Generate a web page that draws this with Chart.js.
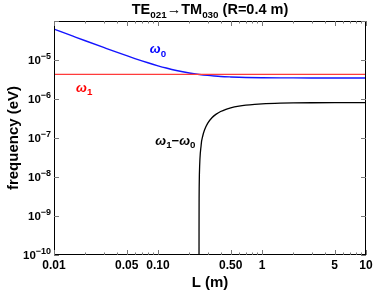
<!DOCTYPE html>
<html>
<head>
<meta charset="utf-8">
<script src="https://cdn.jsdelivr.net/npm/chart.js@4/dist/chart.umd.min.js"></script>
<style>
  html, body { margin: 0; padding: 0; background: #fff; }
  #wrap { width: 374px; height: 295px; }
</style>
</head>
<body>
<div id="wrap"><canvas id="chart"></canvas></div>
<script>
// cavity length L (m) and the curves
var omega0L = [0.01, 0.012, 0.015, 0.02, 0.03, 0.04, 0.05, 0.06, 0.07, 0.08, 0.1, 0.12, 0.15, 0.2, 0.25, 0.3, 0.35, 0.4, 0.5, 0.6, 0.7, 1, 1.5, 2, 3, 5, 7, 10];
var omega0 = [6.21e-5, 5.18e-5, 4.15e-5, 3.12e-5, 2.10e-5, 1.59e-5, 1.29e-5, 1.09e-5, 9.51e-6, 8.49e-6, 7.10e-6, 6.22e-6, 5.39e-6, 4.65e-6, 4.26e-6, 4.03e-6, 3.89e-6, 3.79e-6, 3.68e-6, 3.61e-6, 3.57e-6, 3.52e-6, 3.49e-6, 3.48e-6, 3.47e-6, 3.46e-6, 3.46e-6, 3.46e-6];

var omega1L = [0.01, 10];
var omega1 = [4.27e-6, 4.27e-6];

var diffL = [0.24803, 0.2481, 0.2485, 0.249, 0.25, 0.26, 0.27, 0.28, 0.3, 0.33, 0.36, 0.4, 0.45, 0.5, 0.6, 0.7, 0.85, 1, 1.5, 2, 3, 5, 7, 10];
var diff = [1e-10, 4.1e-10, 2.8e-9, 5.7e-9, 1.15e-8, 6.63e-8, 1.16e-7, 1.61e-7, 2.38e-7, 3.31e-7, 4.03e-7, 4.77e-7, 5.44e-7, 5.93e-7, 6.57e-7, 6.97e-7, 7.32e-7, 7.53e-7, 7.83e-7, 7.94e-7, 8.02e-7, 8.06e-7, 8.07e-7, 8.08e-7];

var xTicks = [0.01, 0.05, 0.1, 0.5, 1, 5, 10];
var xTickLabels = ["0.01", "0.05", "0.10", "0.50", "1", "5", "10"];
var xMinor = [0.02, 0.03, 0.04, 0.06, 0.07, 0.08, 0.09, 0.2, 0.3, 0.4, 0.6, 0.7, 0.8, 0.9, 2, 3, 4, 6, 7, 8, 9];
var yExps = [-10, -9, -8, -7, -6, -5, -4];
var yLabelExps = [-10, -9, -8, -7, -6, -5];

function pts(xs, ys) {
  return xs.map(function (x, i) { return { x: x, y: ys[i] }; });
}

// text with lowered/raised small parts: parts = [[text, kind, fontStyle]]
function drawRich(ctx, parts, x, y, size, align, style, small) {
  small = small || 0.68;
  var fam = "px 'Liberation Sans', Arial, sans-serif";
  function fnt(p) {
    return (p[2] || style) + " " + (p[1] ? size * small : size) + fam;
  }
  var w = 0;
  parts.forEach(function (p) {
    ctx.font = fnt(p);
    w += ctx.measureText(p[0]).width;
  });
  var cx = align === "center" ? x - w / 2 : (align === "right" ? x - w : x);
  ctx.textBaseline = "alphabetic";
  ctx.textAlign = "left";
  parts.forEach(function (p) {
    ctx.font = fnt(p);
    var dy = p[1] === "sub" ? size * 0.28 : (p[1] === "sup" ? -size * 0.42 : 0);
    ctx.fillText(p[0], cx, y + dy);
    cx += ctx.measureText(p[0]).width;
  });
}

var decor = {
  id: "decor",
  afterDraw: function (chart) {
    var ctx = chart.ctx;
    var a = chart.chartArea;
    var xs = chart.scales.x, ys = chart.scales.y;
    ctx.save();
    // frame
    ctx.strokeStyle = "#000";
    ctx.lineWidth = 1;
    ctx.strokeRect(a.left + 0.5, a.top + 0.5, a.right - a.left - 1, a.bottom - a.top - 1);
    // ticks
    ctx.strokeStyle = "#777";
    ctx.beginPath();
    xTicks.forEach(function (v) {
      var px = Math.round(xs.getPixelForValue(v)) + 0.5;
      ctx.moveTo(px, a.bottom); ctx.lineTo(px, a.bottom - 5);
      ctx.moveTo(px, a.top); ctx.lineTo(px, a.top + 5);
    });
    xMinor.forEach(function (v) {
      var px = Math.round(xs.getPixelForValue(v)) + 0.5;
      ctx.moveTo(px, a.bottom); ctx.lineTo(px, a.bottom - 2.5);
      ctx.moveTo(px, a.top); ctx.lineTo(px, a.top + 2.5);
    });
    yExps.forEach(function (e) {
      var py = Math.round(ys.getPixelForValue(Math.pow(10, e))) + 0.5;
      ctx.moveTo(a.left, py); ctx.lineTo(a.left + 5, py);
      ctx.moveTo(a.right, py); ctx.lineTo(a.right - 5, py);
    });
    ctx.stroke();

    ctx.fillStyle = "#000";
    // x tick labels
    ctx.font = "bold 12px 'Liberation Sans', Arial, sans-serif";
    ctx.textAlign = "center";
    ctx.textBaseline = "top";
    xTicks.forEach(function (v, i) {
      var px = xs.getPixelForValue(v);
      ctx.fillText(xTickLabels[i], px, a.bottom + 5);
    });
    // y tick labels
    yLabelExps.forEach(function (e) {
      var py = ys.getPixelForValue(Math.pow(10, e));
      drawRich(ctx, [["10", ""], ["\u2212" + Math.abs(e), "sup"]], a.left - 3, py + 4, 11.5, "right", "bold", 0.78);
    });
    // title
    drawRich(ctx, [["TE", ""], ["021", "sub"], ["\u2192TM", ""], ["030", "sub"], [" (R=0.4 m)", ""]],
      (a.left + a.right) / 2, 14, 14.5, "center", "bold");
    // axis titles
    ctx.font = "bold 15px 'Liberation Sans', Arial, sans-serif";
    ctx.textAlign = "center";
    ctx.textBaseline = "alphabetic";
    ctx.fillText("L (m)", (a.left + a.right) / 2, 287);
    ctx.save();
    ctx.translate(18, (a.top + a.bottom) / 2);
    ctx.rotate(-Math.PI / 2);
    ctx.fillText("frequency (eV)", 0, 0);
    ctx.restore();
    // curve labels
    var it = "italic bold";
    ctx.fillStyle = "#0000ff";
    drawRich(ctx, [["\u03c9", "", it], ["0", "sub", "bold"]], xs.getPixelForValue(0.1), ys.getPixelForValue(1.9e-5) + 4, 13, "center", "bold", 0.75);
    ctx.fillStyle = "#ff0000";
    drawRich(ctx, [["\u03c9", "", it], ["1", "sub", "bold"]], xs.getPixelForValue(0.0195), ys.getPixelForValue(1.95e-6) + 4, 13, "center", "bold", 0.75);
    ctx.fillStyle = "#000";
    drawRich(ctx, [["\u03c9", "", it], ["1", "sub", "bold"], ["\u2212", "", "bold"], ["\u03c9", "", it], ["0", "sub", "bold"]],
      xs.getPixelForValue(0.147), ys.getPixelForValue(8.5e-8) + 4, 13, "center", "bold", 0.75);
    ctx.restore();
  }
};

var ctx = document.getElementById("chart").getContext("2d");
var chart = new Chart(ctx, {
  type: "scatter",
  data: {
    datasets: [
      { data: pts(omega1L, omega1), borderColor: "#ff3b3b", borderWidth: 1.4, showLine: true, pointRadius: 0 },
      { data: pts(omega0L, omega0), borderColor: "#1414ff", borderWidth: 1.4, showLine: true, pointRadius: 0, cubicInterpolationMode: "monotone" },
      { data: pts(diffL, diff), borderColor: "#000000", borderWidth: 1.3, showLine: true, pointRadius: 0, cubicInterpolationMode: "monotone" }
    ]
  },
  options: {
    responsive: true,
    maintainAspectRatio: false,
    animation: false,
    layout: { padding: { top: 21, right: 8, left: 0, bottom: 0 } },
    plugins: { legend: { display: false }, tooltip: { enabled: false } },
    scales: {
      x: {
        type: "logarithmic", min: 0.01, max: 10,
        grid: { display: false }, border: { display: false },
        ticks: { display: false },
        afterFit: function (s) { s.height = 40; }
      },
      y: {
        type: "logarithmic", min: 1e-10, max: 1e-4,
        grid: { display: false }, border: { display: false },
        ticks: { display: false },
        afterFit: function (s) { s.width = 54; }
      }
    }
  },
  plugins: [decor]
});
</script>
</body>
</html>
